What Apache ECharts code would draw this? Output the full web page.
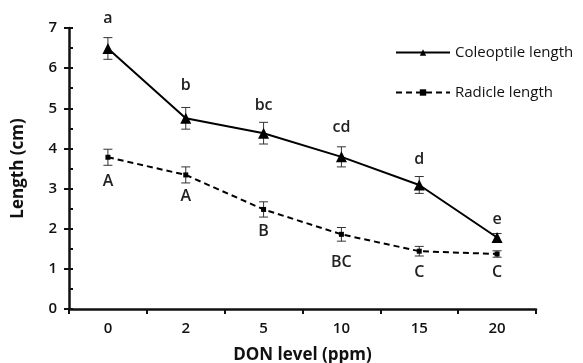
<!DOCTYPE html>
<html><head><meta charset="utf-8">
<script src="https://cdn.jsdelivr.net/npm/echarts@6/dist/echarts.min.js"></script>
<style>html,body{margin:0;padding:0;background:#fff}#c{width:583px;height:363px}</style>
</head><body><div id="c"></div>
<script>
var categories = ['0', '2', '5', '10', '15', '20'];
var coleoptile = [6.49, 4.75, 4.38, 3.79, 3.09, 1.78];
var coleoptileErr = [0.27, 0.27, 0.27, 0.25, 0.21, 0.10];
var radicle = [3.78, 3.34, 2.48, 1.86, 1.44, 1.37];
var radicleErr = [0.20, 0.20, 0.19, 0.17, 0.12, 0.08];
var coleoptileLetters = ['a', 'b', 'bc', 'cd', 'd', 'e'];
var coleoptileLetterY = [7.25, 5.56, 5.06, 4.53, 3.72, 2.24];
var radicleLetters = ['A', 'A', 'B', 'BC', 'C', 'C'];
var radicleLetterY = [3.17, 2.8, 1.92, 1.17, 0.9, 0.9];
var yTicks = [0, 1, 2, 3, 4, 5, 6, 7];

var FONT = 'Open Sans';
function errData(vals, errs) {
  return vals.map(function (v, i) { return [i, v - errs[i], v + errs[i]]; });
}
function errRender(params, api) {
  var x = api.value(0);
  var lo = api.coord([x, api.value(1)]);
  var hi = api.coord([x, api.value(2)]);
  var hw = 4.5;
  var st = { stroke: '#333', lineWidth: 1 };
  return { type: 'group', children: [
    { type: 'line', shape: { x1: lo[0], y1: lo[1], x2: hi[0], y2: hi[1] }, style: st },
    { type: 'line', shape: { x1: lo[0] - hw, y1: lo[1], x2: lo[0] + hw, y2: lo[1] }, style: st },
    { type: 'line', shape: { x1: hi[0] - hw, y1: hi[1], x2: hi[0] + hw, y2: hi[1] }, style: st }
  ]};
}
function letterData(ys, txt) {
  return ys.map(function (v, i) { return [i, v, txt[i]]; });
}
function letterRender(params, api) {
  var p = api.coord([api.value(0), api.value(1)]);
  return { type: 'text', x: p[0], y: p[1], style: {
    text: api.value(2), fill: '#222', font: '600 16px "' + FONT + '"', align: 'center', verticalAlign: 'middle' } };
}

var chart = echarts.init(document.getElementById('c'), null, { renderer: 'canvas' });
chart.setOption({
  animation: false,
  backgroundColor: '#fff',
  grid: { left: 69, right: 47, top: 28, bottom: 54, containLabel: false, outerBoundsMode: 'none' },
  legend: {
    orient: 'vertical', left: 390, top: 40, itemGap: 25, itemWidth: 54, itemHeight: 8,
    textStyle: { fontFamily: FONT, fontSize: 15, color: '#111', fontWeight: 500 },
    data: ['Coleoptile length', 'Radicle length']
  },
  xAxis: {
    type: 'category', data: categories, boundaryGap: true,
    name: 'DON level (ppm)', nameLocation: 'middle', nameGap: 38,
    nameTextStyle: { fontFamily: FONT, fontSize: 17, fontWeight: 'bold', color: '#111' },
    axisLine: { lineStyle: { color: '#111', width: 2.5 } },
    axisTick: { show: true, length: 5, lineStyle: { color: '#111', width: 2 } },
    axisLabel: { fontFamily: FONT, fontSize: 15, fontWeight: 600, color: '#111', margin: 12 },
    splitLine: { show: false }
  },
  yAxis: [{
    type: 'value', min: 0, max: 7, interval: 1,
    name: 'Length (cm)', nameLocation: 'middle', nameGap: 42, nameRotate: 90,
    nameTextStyle: { fontFamily: FONT, fontSize: 17, fontWeight: 'bold', color: '#111' },
    axisLine: { show: true, lineStyle: { color: '#111', width: 2.5 } },
    axisTick: { show: true, length: 5, lineStyle: { color: '#111', width: 2 } },
    axisLabel: { fontFamily: FONT, fontSize: 15, fontWeight: 600, color: '#111', margin: 12,
      formatter: function (v) { return yTicks.indexOf(v) >= 0 ? String(v) : ''; } },
    splitLine: { show: false }
  }, {
    type: 'value', min: 0, max: 7, interval: 1, position: 'left', offset: 0,
    axisLine: { show: false },
    axisTick: { show: true, inside: true, length: 4, lineStyle: { color: '#111', width: 2 } },
    minorTick: { show: true, splitNumber: 2, length: 4, lineStyle: { color: '#111', width: 2 } },
    axisLabel: { show: false }, splitLine: { show: false }
  }],
  series: [
    { name: 'Coleoptile length', type: 'line', data: coleoptile, symbol: 'triangle', symbolSize: 11,
      lineStyle: { color: '#000', width: 2 }, itemStyle: { color: '#000' }, z: 5 },
    { name: 'Radicle length', type: 'line', data: radicle, symbol: 'rect', symbolSize: 5,
      lineStyle: { color: '#000', width: 2, type: [6, 4] }, itemStyle: { color: '#000' }, z: 5 },
    { type: 'custom', data: errData(coleoptile, coleoptileErr), renderItem: errRender, z: 4, silent: true },
    { type: 'custom', data: errData(radicle, radicleErr), renderItem: errRender, z: 4, silent: true },
    { type: 'custom', data: letterData(coleoptileLetterY, coleoptileLetters), renderItem: letterRender, z: 6, silent: true },
    { type: 'custom', data: letterData(radicleLetterY, radicleLetters), renderItem: letterRender, z: 6, silent: true }
  ]
});
</script></body></html>
